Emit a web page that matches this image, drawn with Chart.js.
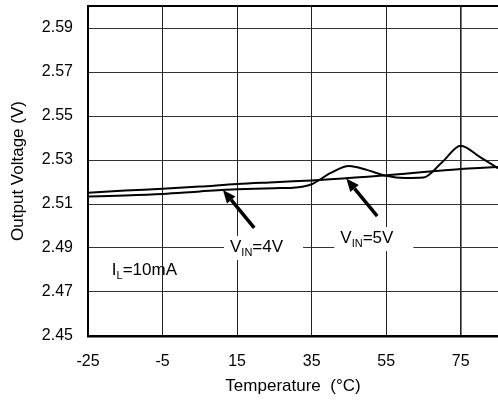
<!DOCTYPE html>
<html>
<head>
<meta charset="utf-8">
<script src="https://cdn.jsdelivr.net/npm/chart.js@4.4.1/dist/chart.umd.min.js"></script>
<style>
  html, body { margin: 0; padding: 0; background: #fff; }
  #wrap { width: 498px; height: 402px; }
</style>
</head>
<body>
<div id="wrap"><canvas id="chart"></canvas></div>
<script>
// temperature points (deg C)
const temps = [-25, -15, -5, 5, 15, 25, 30, 35, 40, 45, 50, 55, 60, 65, 70, 75, 80, 85];
// VIN = 4V curve (the wavy one)
const vout4V = [2.5134, 2.5139, 2.5146, 2.5157, 2.5167, 2.5172, 2.5174, 2.5190, 2.5240, 2.5273,
                2.5254, 2.5228, 2.5218, 2.5220, 2.5290, 2.5365, 2.5315, 2.5262];
// VIN = 5V curve (the smooth one)
const vout5V = [2.5151, 2.5161, 2.5169, 2.5179, 2.5191, 2.5199, 2.5203, 2.5207, 2.5212, 2.5218,
                2.5224, 2.5231, 2.5238, 2.5245, 2.5252, 2.5259, 2.5264, 2.5268];

const xTicks = [-25, -5, 15, 35, 55, 75];
const yTicks = [2.45, 2.47, 2.49, 2.51, 2.53, 2.55, 2.57, 2.59];
const xRange = [-25, 85];
const yRange = [2.45, 2.60];

// notes on the plot, placed in data units: [temp, volts]
const notes = [
  { main: "V", sub: "IN", rest: "=4V", at: [13.1, 2.4882], box: true },
  { main: "V", sub: "IN", rest: "=5V", at: [42.7, 2.4923], box: true },
  { main: "I", sub: "L", rest: "=10mA", at: [-18.6, 2.4777], box: false },
];
const arrows = [
  { from: [19.6, 2.4991], to: [11.2, 2.5164] },
  { from: [52.6, 2.5045], to: [44.3, 2.5216] },
];

const FONT = "'Liberation Sans', Arial, sans-serif";

const pts = (ys) => temps.map((t, i) => ({ x: t, y: ys[i] }));

const notesPlugin = {
  id: "notes",
  afterDatasetsDraw(chart) {
    const ctx = chart.ctx;
    const xs = chart.scales.x, ys = chart.scales.y;
    ctx.save();
    notes.forEach((n) => {
      const x0 = xs.getPixelForValue(n.at[0]);
      const yb = ys.getPixelForValue(n.at[1]);
      ctx.font = "17px " + FONT;
      const w1 = ctx.measureText(n.main).width;
      const w3 = ctx.measureText(n.rest).width;
      ctx.font = "11px " + FONT;
      const w2 = ctx.measureText(n.sub).width;
      if (n.box) {
        ctx.fillStyle = "#fff";
        ctx.fillRect(x0 - 6, yb - 16, w1 + w2 + w3 + 26, 24);
      }
      ctx.fillStyle = "#000";
      ctx.textBaseline = "alphabetic";
      ctx.font = "17px " + FONT;
      ctx.fillText(n.main, x0, yb);
      ctx.font = "11px " + FONT;
      ctx.fillText(n.sub, x0 + w1, yb + 4);
      ctx.font = "17px " + FONT;
      ctx.fillText(n.rest, x0 + w1 + w2, yb);
    });
    arrows.forEach((a) => {
      const x1 = xs.getPixelForValue(a.from[0]), y1 = ys.getPixelForValue(a.from[1]);
      const x2 = xs.getPixelForValue(a.to[0]), y2 = ys.getPixelForValue(a.to[1]);
      const ang = Math.atan2(y2 - y1, x2 - x1);
      const head = 13, half = 5.5;
      const bx = x2 - head * Math.cos(ang), by = y2 - head * Math.sin(ang);
      ctx.strokeStyle = "#000";
      ctx.lineWidth = 3.5;
      ctx.beginPath();
      ctx.moveTo(x1, y1);
      ctx.lineTo(bx, by);
      ctx.stroke();
      ctx.fillStyle = "#000";
      ctx.beginPath();
      ctx.moveTo(x2, y2);
      ctx.lineTo(bx + half * Math.sin(ang), by - half * Math.cos(ang));
      ctx.lineTo(bx - half * Math.sin(ang), by + half * Math.cos(ang));
      ctx.closePath();
      ctx.fill();
    });
    ctx.restore();
  },
};

new Chart(document.getElementById("chart").getContext("2d"), {
  type: "line",
  data: {
    datasets: [
      {
        label: "VIN=4V",
        data: pts(vout4V),
        borderColor: "#000",
        borderWidth: 2,
        pointRadius: 0,
        fill: false,
        cubicInterpolationMode: "monotone",
      },
      {
        label: "VIN=5V",
        data: pts(vout5V),
        borderColor: "#000",
        borderWidth: 2,
        pointRadius: 0,
        fill: false,
        cubicInterpolationMode: "monotone",
      },
    ],
  },
  options: {
    responsive: true,
    maintainAspectRatio: false,
    animation: false,
    layout: { padding: { top: 6, right: 0, bottom: 0, left: 0 } },
    plugins: { legend: { display: false }, tooltip: { enabled: false } },
    scales: {
      x: {
        type: "linear",
        min: xRange[0],
        max: xRange[1],
        afterBuildTicks: (s) => { s.ticks = xTicks.map((v) => ({ value: v })); },
        afterFit: (s) => {
          s.height = 66;
          s.paddingLeft = 0; s.paddingRight = 0; s.paddingTop = 0; s.paddingBottom = 0;
        },
        ticks: { color: "#000", font: { family: FONT, size: 16 }, padding: 16, maxRotation: 0 },
        grid: {
          drawTicks: false,
          color: "#222",
          lineWidth: (c) => (c.tick && c.tick.value === 75 ? 1.6 : 1),
        },
        border: { color: "#000", width: 2.5 },
        title: {
          display: true,
          text: "Temperature  (\u00b0C)",
          color: "#000",
          font: { family: FONT, size: 17 },
          padding: { top: 6, bottom: 5 },
        },
      },
      y: {
        type: "linear",
        min: yRange[0],
        max: yRange[1],
        afterBuildTicks: (s) => {
          s.ticks = yTicks.concat([yRange[1]]).map((v) => ({ value: v }));
        },
        afterFit: (s) => {
          s.width = 88;
          s.paddingLeft = 0; s.paddingRight = 0; s.paddingTop = 0; s.paddingBottom = 0;
        },
        ticks: {
          color: "#000",
          font: { family: FONT, size: 16 },
          padding: 15,
          callback: (v) => (yTicks.includes(v) ? v.toFixed(2) : ""),
        },
        grid: {
          drawTicks: false,
          color: (c) => (c.tick && c.tick.value === yRange[1] ? "#000" : "#333"),
          lineWidth: (c) => (c.tick && c.tick.value === yRange[1] ? 2 : 1),
        },
        border: { color: "#000", width: 2 },
        title: {
          display: true,
          text: "Output Voltage (V)",
          color: "#000",
          font: { family: FONT, size: 17 },
          padding: { top: 8, bottom: 12 },
        },
      },
    },
  },
  plugins: [notesPlugin],
});
</script>
</body>
</html>
